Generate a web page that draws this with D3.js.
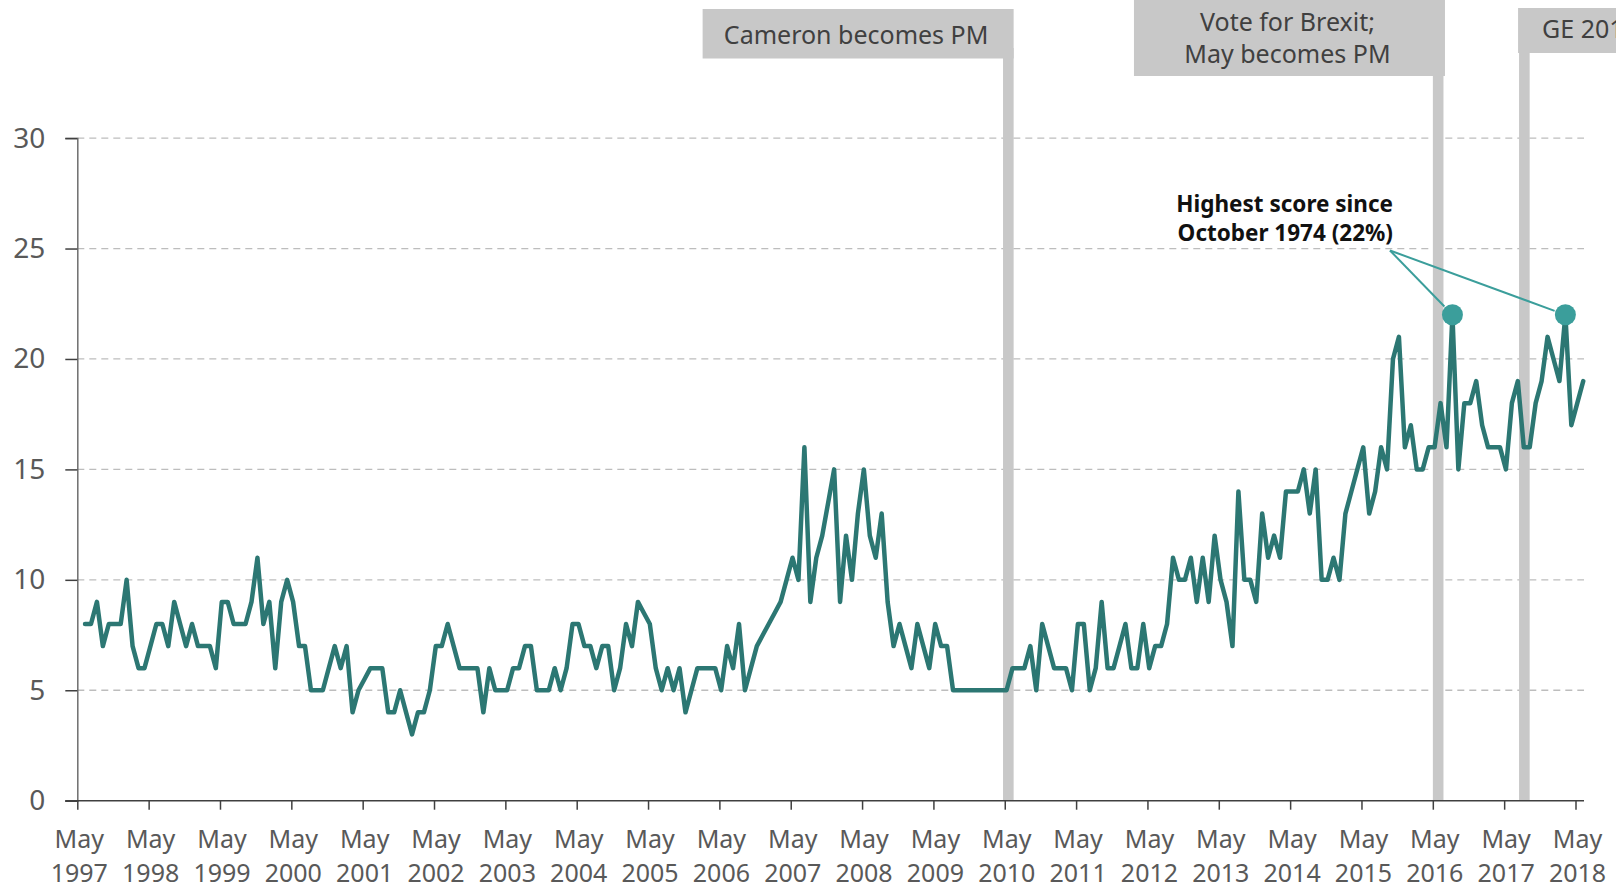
<!DOCTYPE html>
<html>
<head>
<meta charset="utf-8">
<script src="https://cdn.jsdelivr.net/npm/d3@7"></script>
<style>
  html, body { margin: 0; padding: 0; background: #fff; }
  svg { display: block; font-family: "Noto Sans", "Open Sans", sans-serif; }
</style>
</head>
<body>
<svg id="chart" width="1616" height="888"></svg>
<script>
// ---- DATA ----
// Monthly values, first point June 1997, last point June 2018
const values = [
  8,8,9,7,8,8,8,10,7,6,
  6,7,8,8,7,9,8,7,8,7,
  7,7,6,9,9,8,8,8,9,11,
  8,9,6,9,10,9,7,7,5,5,
  5,6,7,6,7,4,5,5.5,6,6,
  6,4,4,5,4,3,4,4,5,7,
  7,8,7,6,6,6,6,4,6,5,
  5,5,6,6,7,7,5,5,5,6,
  5,6,8,8,7,7,6,7,7,5,
  6,8,7,9,8.5,8,6,5,6,5,
  6,4,5,6,6,6,6,5,7,6,
  8,5,6,7,7.5,8,8.5,9,10,11,
  10,16,9,11,12,13.5,15,9,12,10,
  13,15,12,11,13,9,7,8,7,6,
  8,7,6,8,7,7,5,5,5,5,
  5,5,5,5,5,5,6,6,6,7,
  5,8,7,6,6,6,5,8,8,5,
  6,9,6,6,7,8,6,6,8,6,
  7,7,8,11,10,10,11,9,11,9,
  12,10,9,7,14,10,10,9,13,11,
  12,11,14,14,14,15,13,15,10,10,
  11,10,13,14,15,16,13,14,16,15,
  20,21,16,17,15,15,16,16,18,16,
  22,15,18,18,19,17,16,16,16,15,
  18,19,16,16,18,19,21,20,19,22,
  17,18,19
];
const tickYears = [1997,1998,1999,2000,2001,2002,2003,2004,2005,2006,2007,2008,2009,2010,2011,2012,2013,2014,2015,2016,2017,2018];
const tickMonthLabel = "May";
const yTicks = [0,5,10,15,20,25,30];
// events: month index measured from May 1997
const eventLabels = [["Cameron becomes PM"], ["Vote for Brexit;", "May becomes PM"], ["GE 2017"]];
const eventMonths = [156.6, 228.9, 243.4];
const peakIndices = [230, 249];
const annotationLines = ["Highest score since", "October 1974 (22%)"];

// ---- LAYOUT ----
const svg = d3.select("#chart");
const firstOffset = 1.3; // months from first tick to first point
const x = d3.scaleLinear().domain([0, 252]).range([77.3, 1575.5]);
const y = d3.scaleLinear().domain([0, 30]).range([800.7, 138.1]);
const px = i => x(i + firstOffset);

const lineColor = "#2c7773";
const dotColor = "#3b9e9b";
const textGrey = "#595959";

// gridlines
svg.append("g").selectAll("line").data(yTicks.filter(d => d > 0)).join("line")
  .attr("x1", x(0)).attr("x2", 1584)
  .attr("y1", d => y(d)).attr("y2", d => y(d))
  .attr("stroke", "#bdbdbd").attr("stroke-width", 1.3)
  .attr("stroke-dasharray", "7,5");

// event bars
const barW = 10.6;
const barTops = [48, 75, 52];
svg.append("g").selectAll("rect").data(eventMonths).join("rect")
  .attr("x", d => x(d) - barW / 2).attr("width", barW)
  .attr("y", (d, i) => barTops[i]).attr("height", (d, i) => y(0) - barTops[i])
  .attr("fill", "#c8c8c8");

// event boxes
const boxes = [
  {x0: x(eventMonths[0]) + barW / 2 - 311, w: 311, y0: 9, h: 49.5},
  {x0: x(eventMonths[1]) + barW / 2 - 311 + 1.5, w: 311, y0: 0, h: 76},
  {x0: x(eventMonths[2]) - barW / 2 - 1, w: 200, y0: 8, h: 45}
];
const bg = svg.append("g");
boxes.forEach((b, i) => {
  bg.append("rect").attr("x", b.x0).attr("y", b.y0).attr("width", b.w).attr("height", b.h).attr("fill", "#c8c8c8");
});
const boxFont = 25;
bg.append("text").attr("x", boxes[0].x0 + boxes[0].w / 2 - 2).attr("y", 44)
  .attr("text-anchor", "middle").attr("font-size", boxFont).attr("fill", "#404040").text(eventLabels[0][0]);
bg.append("text").attr("x", boxes[1].x0 + boxes[1].w / 2 - 2).attr("y", 31)
  .attr("text-anchor", "middle").attr("font-size", boxFont).attr("fill", "#404040").text(eventLabels[1][0]);
bg.append("text").attr("x", boxes[1].x0 + boxes[1].w / 2 - 2).attr("y", 63)
  .attr("text-anchor", "middle").attr("font-size", boxFont).attr("fill", "#404040").text(eventLabels[1][1]);
bg.append("text").attr("x", boxes[2].x0 + 24).attr("y", 38)
  .attr("text-anchor", "start").attr("font-size", boxFont).attr("fill", "#404040").text(eventLabels[2][0]);

// y axis
const yAxis = svg.append("g").attr("transform", `translate(${x(0)},0)`)
  .call(d3.axisLeft(y).tickValues(yTicks).tickSize(12).tickPadding(20).tickFormat(d3.format("d")));
yAxis.select(".domain").attr("stroke", "#6e6e6e").attr("stroke-width", 1.5);
yAxis.selectAll(".tick line").attr("stroke", "#404040").attr("stroke-width", 1.5);
yAxis.selectAll(".tick text").attr("font-size", 28).attr("fill", textGrey)
  .attr("font-family", "Noto Sans, sans-serif");

// x axis
const tickMonths = tickYears.map((yr) => (yr - tickYears[0]) * 12);
const xAxis = svg.append("g").attr("transform", `translate(0,${y(0)})`)
  .call(d3.axisBottom(x).tickValues(tickMonths).tickSize(9).tickFormat(""));
xAxis.select(".domain").attr("stroke", "#404040").attr("stroke-width", 1.5)
  .attr("d", `M${x(0) - 12},0H1584`);
xAxis.selectAll(".tick line").attr("stroke", "#404040").attr("stroke-width", 1.5);
const xl = svg.append("g").attr("font-size", 25).attr("fill", textGrey).attr("text-anchor", "middle");
tickMonths.forEach((m, i) => {
  const t = xl.append("text").attr("x", x(m) + 2);
  t.append("tspan").attr("x", x(m) + 2).attr("y", 848).text(tickMonthLabel);
  t.append("tspan").attr("x", x(m) + 2).attr("y", 882).text(tickYears[i]);
});

// line
const line = d3.line().x((d, i) => px(i)).y(d => y(d)).curve(d3.curveLinear);
svg.append("path").datum(values).attr("d", line)
  .attr("fill", "none").attr("stroke", lineColor).attr("stroke-width", 4.5)
  .attr("stroke-linejoin", "round").attr("stroke-linecap", "round");

// peaks
const r = 10.5;
svg.append("g").selectAll("circle").data(peakIndices).join("circle")
  .attr("cx", d => px(d)).attr("cy", d => y(values[d])).attr("r", r)
  .attr("fill", dotColor);

// annotation leaders
const ax = 1390, ay = 250.5;
const lg = svg.append("g");
peakIndices.forEach(k => {
  const cx = px(k), cy = y(values[k]);
  const dx = cx - ax, dy = cy - ay, len = Math.hypot(dx, dy);
  lg.append("line").attr("x1", ax).attr("y1", ay)
    .attr("x2", cx - dx / len * (r + 1)).attr("y2", cy - dy / len * (r + 1))
    .attr("stroke", dotColor).attr("stroke-width", 2);
});
const at = svg.append("g").attr("font-size", 22.5).attr("font-weight", "bold").attr("fill", "#111").attr("text-anchor", "end");
at.append("text").attr("x", 1393).attr("y", 212).text(annotationLines[0]);
at.append("text").attr("x", 1393).attr("y", 241).text(annotationLines[1]);
</script>
</body>
</html>
